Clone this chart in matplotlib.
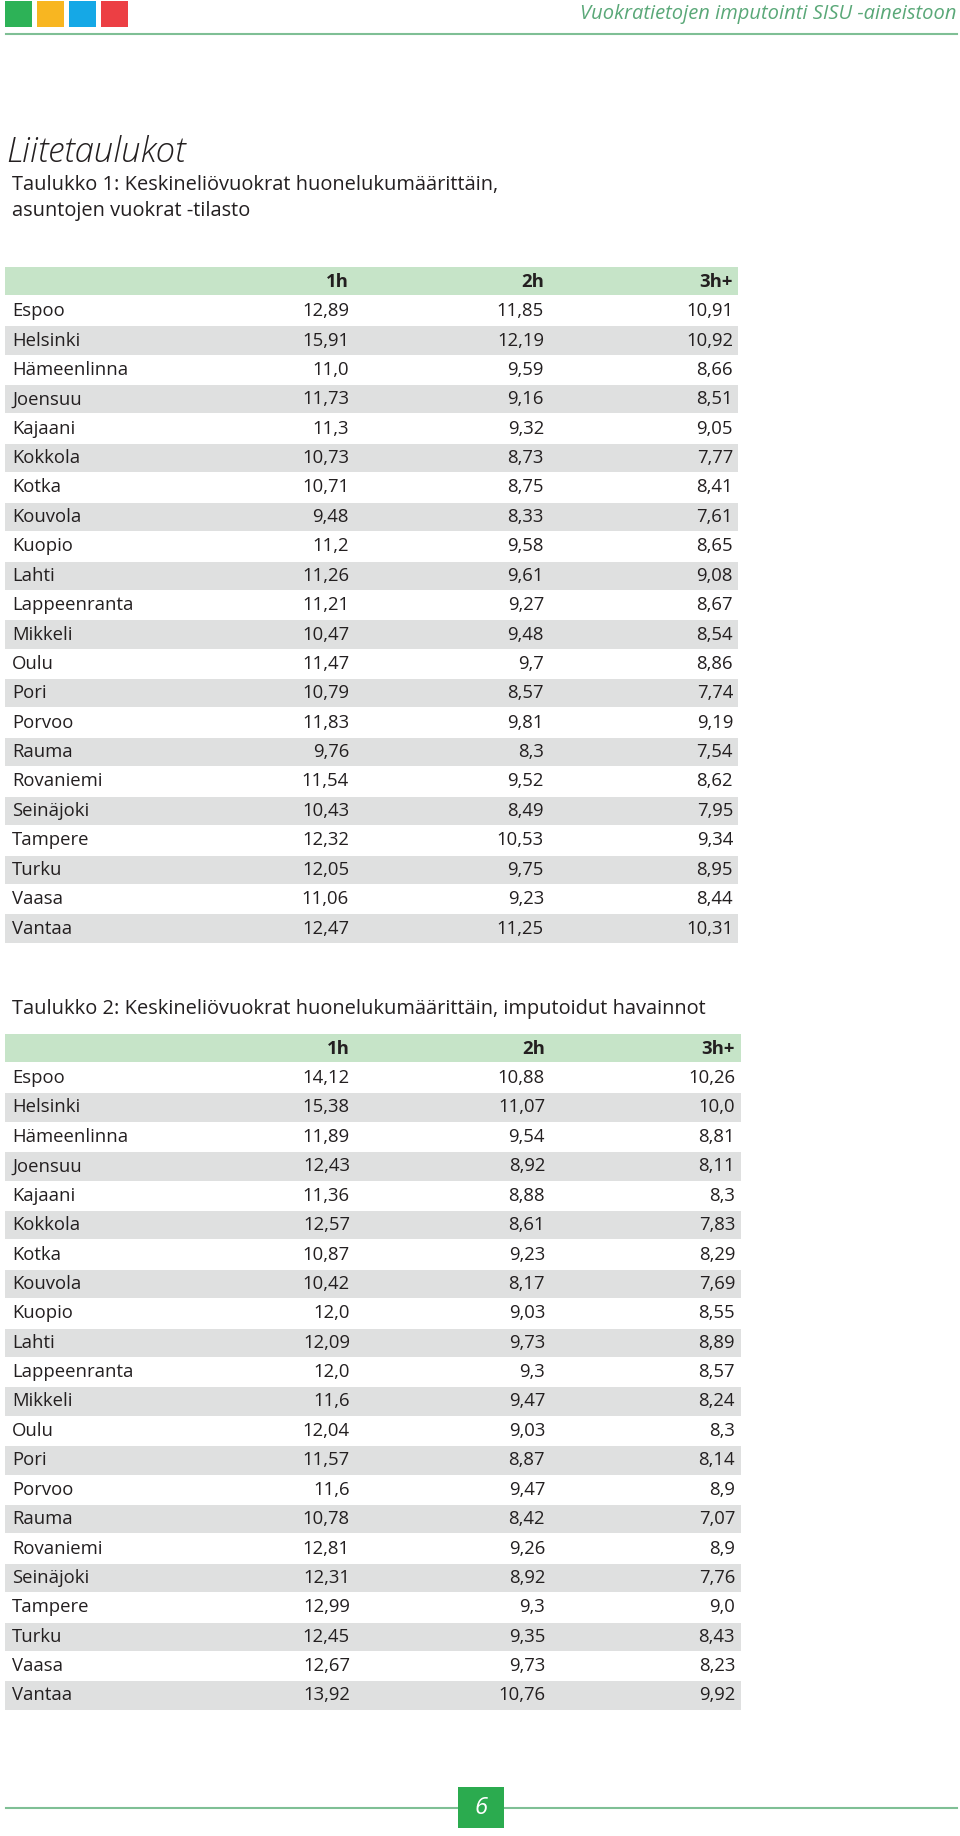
import matplotlib
matplotlib.use("Agg")
import matplotlib.pyplot as plt
from matplotlib.patches import Rectangle

cities = ["Espoo", "Helsinki", "Hämeenlinna", "Joensuu", "Kajaani", "Kokkola", "Kotka",
          "Kouvola", "Kuopio", "Lahti", "Lappeenranta", "Mikkeli", "Oulu", "Pori", "Porvoo",
          "Rauma", "Rovaniemi", "Seinäjoki", "Tampere", "Turku", "Vaasa", "Vantaa"]
columns = ["1h", "2h", "3h+"]

# Taulukko 1: asuntojen vuokrat -tilasto
t1_1h = [12.89, 15.91, 11.0, 11.73, 11.3, 10.73, 10.71, 9.48, 11.2, 11.26, 11.21, 10.47,
         11.47, 10.79, 11.83, 9.76, 11.54, 10.43, 12.32, 12.05, 11.06, 12.47]
t1_2h = [11.85, 12.19, 9.59, 9.16, 9.32, 8.73, 8.75, 8.33, 9.58, 9.61, 9.27, 9.48,
         9.7, 8.57, 9.81, 8.3, 9.52, 8.49, 10.53, 9.75, 9.23, 11.25]
t1_3h = [10.91, 10.92, 8.66, 8.51, 9.05, 7.77, 8.41, 7.61, 8.65, 9.08, 8.67, 8.54,
         8.86, 7.74, 9.19, 7.54, 8.62, 7.95, 9.34, 8.95, 8.44, 10.31]

# Taulukko 2: imputoidut havainnot
t2_1h = [14.12, 15.38, 11.89, 12.43, 11.36, 12.57, 10.87, 10.42, 12.0, 12.09, 12.0, 11.6,
         12.04, 11.57, 11.6, 10.78, 12.81, 12.31, 12.99, 12.45, 12.67, 13.92]
t2_2h = [10.88, 11.07, 9.54, 8.92, 8.88, 8.61, 9.23, 8.17, 9.03, 9.73, 9.3, 9.47,
         9.03, 8.87, 9.47, 8.42, 9.26, 8.92, 9.3, 9.35, 9.73, 10.76]
t2_3h = [10.26, 10.0, 8.81, 8.11, 8.3, 7.83, 8.29, 7.69, 8.55, 8.89, 8.57, 8.24,
         8.3, 8.14, 8.9, 7.07, 8.9, 7.76, 9.0, 8.43, 8.23, 9.92]

title1 = "Taulukko 1: Keskineliövuokrat huonelukumäärittäin,\nasuntojen vuokrat -tilasto"
title2 = "Taulukko 2: Keskineliövuokrat huonelukumäärittäin, imputoidut havainnot"

plt.rcParams["font.family"] = ["Open Sans", "DejaVu Sans"]

GREEN_HDR = "#c6e4c8"
GRAY_ROW = "#dfe0e0"
TEXT = "#231f20"
LINE_GREEN = "#7fbf95"

fig = plt.figure(figsize=(9.6, 18.36), dpi=100)
ax = fig.add_axes([0, 0, 1, 1])
ax.set_xlim(0, 960)
ax.set_ylim(1836, 0)
ax.axis("off")

# page header: colour squares, running title, rule
for i, c in enumerate(["#2db257", "#f8b621", "#15a8e6", "#ec3f44"]):
    ax.add_patch(Rectangle((5 + i * 32, 1), 27, 26, color=c, lw=0))
ax.text(957, 14, "Vuokratietojen imputointi SISU -aineistoon", ha="right", va="center",
        fontsize=14.5, style="italic", color="#5aa878")
ax.plot([6, 957], [34, 34], color=LINE_GREEN, lw=1.5)

ax.text(6, 152, "Liitetaulukot", ha="left", va="center", fontsize=25, style="italic",
        color=TEXT, fontweight="light")


def draw_table(top, title_y, title, c1, c2, c3, right_edge, col_x):
    row_h = 29.4
    ax.text(12, title_y, title, ha="left", va="center", fontsize=14.4, color=TEXT,
            linespacing=1.45)
    ax.add_patch(Rectangle((5, top), right_edge - 5, row_h - 1, color=GREEN_HDR, lw=0))
    yc = top + row_h / 2
    for x, lab in zip(col_x, columns):
        ax.text(x, yc, lab, ha="right", va="center", fontsize=13.3, fontweight="bold", color=TEXT)
    for i, city in enumerate(cities):
        y0 = top + (i + 1) * row_h
        if i % 2 == 1:
            ax.add_patch(Rectangle((5, y0 + 0.5), right_edge - 5, row_h - 1, color=GRAY_ROW, lw=0))
        yc = y0 + row_h / 2
        ax.text(12, yc, city, ha="left", va="center", fontsize=13.3, color=TEXT)
        for x, v in zip(col_x, (c1[i], c2[i], c3[i])):
            ax.text(x, yc, str(v).replace(".", ","), ha="right", va="center",
                    fontsize=13.3, color=TEXT)


draw_table(267, 198, title1, t1_1h, t1_2h, t1_3h, 738, [349, 544, 733])
draw_table(1034, 1009, title2, t2_1h, t2_2h, t2_3h, 741, [350, 545, 735])

# footer: rule with page number box
ax.plot([6, 957], [1808, 1808], color=LINE_GREEN, lw=1.5)
ax.add_patch(Rectangle((458, 1787), 46, 41, color="#2bab4f", lw=0, zorder=3))
ax.text(481, 1808, "6", ha="center", va="center", fontsize=17, style="italic",
        color="white", zorder=4)

fig.savefig("out.png", dpi=100)
